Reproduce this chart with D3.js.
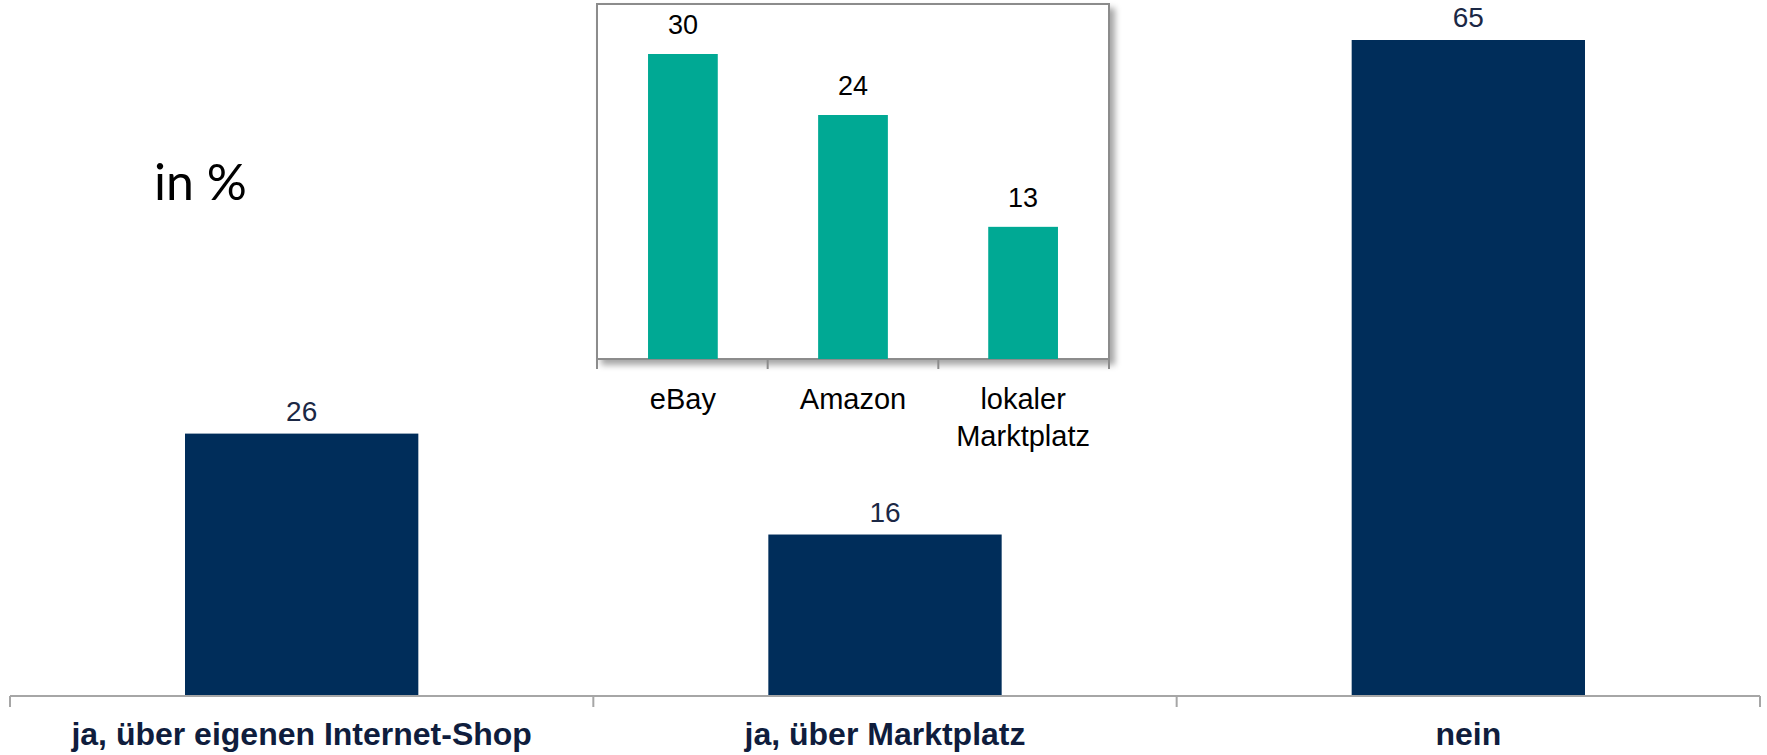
<!DOCTYPE html>
<html>
<head>
<meta charset="utf-8">
<script src="https://cdn.jsdelivr.net/npm/d3@7"></script>
<style>
	body { margin: 0; background: white; }
	text { font-family: Arial, "Liberation Sans", sans-serif; }
</style>
</head>
<body>
<svg id="container"></svg>
<script>

// data
var mainCats = ['ja, über eigenen Internet-Shop', 'ja, über Marktplatz', 'nein'];
var mainVals = [26, 16, 65];
var insetCats = [['eBay'], ['Amazon'], ['lokaler', 'Marktplatz']];
var insetVals = [30, 24, 13];

// constants
const W = 1767, H = 755;
const NAVY = '#002d5a', TEAL = '#00a994';

var svg = d3.select('#container')
	.attr('width', W)
	.attr('height', H);

var defs = svg.append('defs');
var shadow = defs.append('filter')
	.attr('id', 'shadow')
	.attr('x', '-5%').attr('y', '-5%')
	.attr('width', '115%').attr('height', '115%');
shadow.append('feDropShadow')
	.attr('dx', 5).attr('dy', 5)
	.attr('stdDeviation', 3)
	.attr('flood-color', '#000')
	.attr('flood-opacity', 0.35);


// main chart
var x = d3.scaleBand()
	.domain(mainCats)
	.range([10, 1760])
	.paddingInner(0.6)
	.paddingOuter(0.3);
var y = d3.scaleLinear()
	.domain([0, 65])
	.range([696, 40]);

svg.append('g').selectAll('rect')
	.data(mainVals)
	.enter()
	.append('rect')
	.attr('x', function(d,i) { return x(mainCats[i]); })
	.attr('y', function(d) { return y(d); })
	.attr('width', x.bandwidth())
	.attr('height', function(d) { return y(0) - y(d); })
	.style('fill', NAVY);

svg.append('g').selectAll('text')
	.data(mainVals)
	.enter()
	.append('text')
	.attr('x', function(d,i) { return x(mainCats[i]) + x.bandwidth()/2; })
	.attr('y', function(d) { return y(d) - 13; })
	.attr('text-anchor', 'middle')
	.style('font-size', '28px')
	.style('fill', '#1b2845')
	.text(function(d) { return d; });

// main axis, ticks at band edges
var edges = d3.range(mainCats.length + 1).map(function(i) {
	return x.range()[0] + i*(x.range()[1] - x.range()[0])/mainCats.length;
});
svg.append('line')
	.attr('x1', x.range()[0]).attr('x2', x.range()[1])
	.attr('y1', y(0)).attr('y2', y(0))
	.style('stroke', '#a6a6a6')
	.style('stroke-width', 2);
svg.append('g').selectAll('line')
	.data(edges)
	.enter()
	.append('line')
	.attr('x1', function(d) { return d; })
	.attr('x2', function(d) { return d; })
	.attr('y1', y(0))
	.attr('y2', y(0) + 11)
	.style('stroke', '#a6a6a6')
	.style('stroke-width', 2);

svg.append('g').selectAll('text')
	.data(mainCats)
	.enter()
	.append('text')
	.attr('x', function(d) { return x(d) + x.bandwidth()/2; })
	.attr('y', 745)
	.attr('text-anchor', 'middle')
	.style('font-size', '32px')
	.style('font-weight', 'bold')
	.style('fill', '#0f1d3d')
	.text(function(d) { return d; });

svg.append('text')
	.attr('x', 154)
	.attr('y', 200)
	.style('font-family', 'Lato, "Open Sans", sans-serif')
	.style('font-size', '50px')
	.style('fill', '#000')
	.text('in %');


// inset chart
var ix = d3.scaleBand()
	.domain(d3.range(insetVals.length))
	.range([597, 1109])
	.paddingInner(0.59)
	.paddingOuter(0.3);
var iy = d3.scaleLinear()
	.domain([0, 30])
	.range([359, 54]);

var inset = svg.append('g').attr('class', 'inset');

inset.append('rect')
	.attr('x', ix.range()[0])
	.attr('y', 4)
	.attr('width', ix.range()[1] - ix.range()[0])
	.attr('height', iy(0) - 4)
	.style('fill', 'white')
	.style('stroke', '#8c8c8c')
	.style('stroke-width', 2)
	.attr('filter', 'url(#shadow)');

inset.append('g').selectAll('rect')
	.data(insetVals)
	.enter()
	.append('rect')
	.attr('x', function(d,i) { return ix(i); })
	.attr('y', function(d) { return iy(d); })
	.attr('width', ix.bandwidth())
	.attr('height', function(d) { return iy(0) - iy(d); })
	.style('fill', TEAL);

inset.append('g').selectAll('text')
	.data(insetVals)
	.enter()
	.append('text')
	.attr('x', function(d,i) { return ix(i) + ix.bandwidth()/2; })
	.attr('y', function(d) { return iy(d) - 20; })
	.attr('text-anchor', 'middle')
	.style('font-size', '27px')
	.style('fill', '#000')
	.text(function(d) { return d; });

var iedges = d3.range(insetVals.length + 1).map(function(i) {
	return ix.range()[0] + i*(ix.range()[1] - ix.range()[0])/insetVals.length;
});
inset.append('g').selectAll('line')
	.data(iedges)
	.enter()
	.append('line')
	.attr('x1', function(d) { return d; })
	.attr('x2', function(d) { return d; })
	.attr('y1', iy(0))
	.attr('y2', iy(0) + 10)
	.style('stroke', '#8c8c8c')
	.style('stroke-width', 2);

var ilabels = inset.append('g').selectAll('text')
	.data(insetCats)
	.enter()
	.append('text')
	.attr('x', function(d,i) { return ix(i) + ix.bandwidth()/2; })
	.attr('y', 409)
	.attr('text-anchor', 'middle')
	.style('font-size', '29px')
	.style('fill', '#000');
ilabels.selectAll('tspan')
	.data(function(d) { return d; })
	.enter()
	.append('tspan')
	.attr('x', function() { return d3.select(this.parentNode).attr('x'); })
	.attr('dy', function(d,i) { return i == 0 ? 0 : 37; })
	.text(function(d) { return d; });

</script>
</body>
</html>
